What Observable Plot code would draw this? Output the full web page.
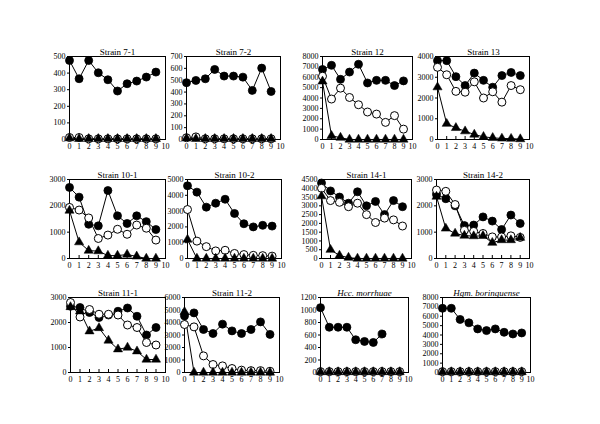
<!DOCTYPE html>
<html><head><meta charset="utf-8">
<script src="https://cdn.jsdelivr.net/npm/d3@7"></script>
<script src="https://cdn.jsdelivr.net/npm/@observablehq/plot@0.6"></script>
<style>
body{margin:0;background:#fff}
#chart{position:relative;width:600px;height:424px;background:#fff;overflow:hidden}
#chart svg{position:absolute}
</style></head><body><div id="chart"></div>
<script>
const days = [0,1,2,3,4,5,6,7,8,9];
const xTicks = [0,1,2,3,4,5,6,7,8,9,10];

const titles = ["Strain 7-1","Strain 7-2","Strain 12","Strain 13","Strain 10-1","Strain 10-2","Strain 14-1","Strain 14-2","Strain 11-1","Strain 11-2","Hcc. morrhuae","Hgm. borinquense"];
const italicTitles = ["Hcc. morrhuae","Hgm. borinquense"];

const yMax = [500,700,8000,4000,3000,5000,4500,3000,3000,6000,1200,8000];
const yStep = [100,100,1000,1000,1000,1000,500,1000,1000,1000,200,1000];

const s71_filled = [476,366,476,402,360,292,336,352,376,406];
const s71_open   = [12,12,4,4,4,4,4,4,4,4];
const s71_tri    = [8,4,4,4,4,4,4,4,4,4];

const s72_filled = [479,498,512,591,535,535,526,414,602,405];
const s72_open   = [15,22,6,6,6,6,6,6,6,6];
const s72_tri    = [10,6,6,6,6,6,6,6,6,6];

const s12_filled = [6750,7150,5800,6500,7250,5450,5700,5700,5200,5650];
const s12_open   = [6100,3900,4950,4050,3350,2650,2450,1650,2300,1000];
const s12_tri    = [5600,350,180,0,0,0,0,0,0,0];

const s13_filled = [3800,3800,3030,2600,3200,2850,2520,3080,3230,3080];
const s13_open   = [3480,3120,2320,2280,2780,2000,2300,1800,2600,2400];
const s13_tri    = [2520,760,560,400,240,130,80,50,40,20];

const s101_filled = [2700,2330,1300,1240,2580,1620,1330,1620,1400,1100];
const s101_open   = [1940,1840,1540,760,890,1110,920,1270,1150,700];
const s101_tri    = [1820,620,300,280,110,110,150,80,0,0];

const s102_filled = [4600,4200,3250,3500,3750,2850,2200,2000,2100,2050];
const s102_open   = [3100,1100,750,480,520,320,250,200,180,150];
const s102_tri    = [1200,0,0,0,0,0,0,0,0,0];

const s141_filled = [4300,3850,3500,3150,3800,3000,3250,2500,3300,2950];
const s141_open   = [4000,3300,3200,2950,3150,2500,2050,2300,2200,1850];
const s141_tri    = [3550,500,170,50,0,0,0,0,0,0];

const s142_filled = [2430,2270,2000,1250,1270,1580,1420,1100,1650,1330];
const s142_open   = [2600,2550,2050,1070,1030,950,820,820,860,800];
const s142_tri    = [2350,1140,950,870,850,860,600,700,700,790];

const s111_filled = [2650,2600,2400,2200,2300,2450,2580,2250,1500,1800];
const s111_open   = [2800,2220,2520,2330,2330,2300,1900,1800,1200,1100];
const s111_tri    = [2620,2450,1650,1780,1280,930,1000,850,520,520];

const s112_filled = [4530,4770,3440,3120,3870,3330,3120,3440,4050,3050];
const s112_open   = [3840,3650,1330,640,530,320,190,150,150,100];
const s112_tri    = [4850,0,0,0,0,0,0,0,0,0];

const hcc_filled = [1038,724,724,724,524,497,481,616,null,null];
const hcc_open   = [14,14,14,14,14,14,14,14,14,14];
const hcc_tri    = [8,8,8,8,8,8,8,8,8,8];

const hgm_filled = [6850,6850,5660,5300,4650,4470,4650,4290,4110,4220];
const hgm_open   = [90,90,90,90,90,90,90,90,90,90];
const hgm_tri    = [50,50,50,50,50,50,50,50,50,50];

const series = [
  [s71_filled,s71_open,s71_tri],[s72_filled,s72_open,s72_tri],[s12_filled,s12_open,s12_tri],[s13_filled,s13_open,s13_tri],
  [s101_filled,s101_open,s101_tri],[s102_filled,s102_open,s102_tri],[s141_filled,s141_open,s141_tri],[s142_filled,s142_open,s142_tri],
  [s111_filled,s111_open,s111_tri],[s112_filled,s112_open,s112_tri],[hcc_filled,hcc_open,hcc_tri],[hgm_filled,hgm_open,hgm_tri]
];

// layout (page pixel positions of each panel frame)
const layout = [
  {left:69,top:56,w:96,h:83},{left:186,top:56,w:94,h:83},{left:322,top:56,w:90,h:83},{left:437,top:56,w:92,h:83},
  {left:69,top:179,w:96,h:79},{left:187,top:179,w:94,h:79},{left:321,top:179,w:90,h:79},{left:436,top:179,w:93,h:79},
  {left:70,top:297,w:95,h:75},{left:184,top:297,w:95,h:75},{left:320,top:297,w:88,h:75},{left:442,top:297,w:88,h:75}
];

const FONT = "'Liberation Serif','Times New Roman',Times,serif";
const chart = document.getElementById("chart");
const mL = 34, mR = 10, mT = 16, mB = 18;

titles.forEach((title, k) => {
  const L = layout[k];
  const [f, o, t] = series[k];
  const rows = arr => days.map((d, i) => ({day: d, v: arr[i]})).filter(r => r.v != null);
  const fil = rows(f), opn = rows(o), tri = rows(t);
  const yTicks = d3.range(0, yMax[k] + 1e-9, yStep[k]);
  const svg = Plot.plot({
    width: L.w + mL + mR, height: L.h + mT + mB,
    marginLeft: mL, marginRight: mR, marginTop: mT, marginBottom: mB,
    style: {background: "none", overflow: "visible", fontFamily: FONT, fontSize: "8px", color: "black"},
    x: {domain: [0, 10]},
    y: {domain: [0, yMax[k]]},
    marks: [
      Plot.axisY({ticks: yTicks, tickSize: 2, tickPadding: 2, tickFormat: d => String(d), fontSize: 8, label: null}),
      Plot.axisX({ticks: xTicks, tickSize: 0, tickPadding: 4, tickFormat: d => String(d), fontSize: 8, label: null}),
      Plot.ruleX(xTicks, {x: d => d, y1: 0, y2: yMax[k] * 3 / L.h, stroke: "black", strokeWidth: 1}),
      Plot.frame({stroke: "black", strokeWidth: 1}),
      Plot.line(fil, {x: "day", y: "v", stroke: "black", strokeWidth: 1}),
      Plot.line(opn, {x: "day", y: "v", stroke: "black", strokeWidth: 1}),
      Plot.line(tri, {x: "day", y: "v", stroke: "black", strokeWidth: 1}),
      Plot.dot(fil, {x: "day", y: "v", r: 4, fill: "black", stroke: "black", strokeWidth: 0.8}),
      Plot.dot(opn, {x: "day", y: "v", r: 4, fill: "white", stroke: "black", strokeWidth: 1}),
      Plot.dot(tri, {x: "day", y: "v", r: 3.4, symbol: "triangle", fill: "black", stroke: "black", strokeWidth: 0.5}),
      Plot.text([title], {text: d => d, frameAnchor: "top", lineAnchor: "bottom", dy: -2, fontSize: 9, fontWeight: "normal",
        fontStyle: italicTitles.includes(title) ? "italic" : "normal", fill: "black"})
    ]
  });
  svg.style.left = (L.left - mL) + "px";
  svg.style.top = (L.top - mT) + "px";
  chart.appendChild(svg);
});
</script></body></html>
